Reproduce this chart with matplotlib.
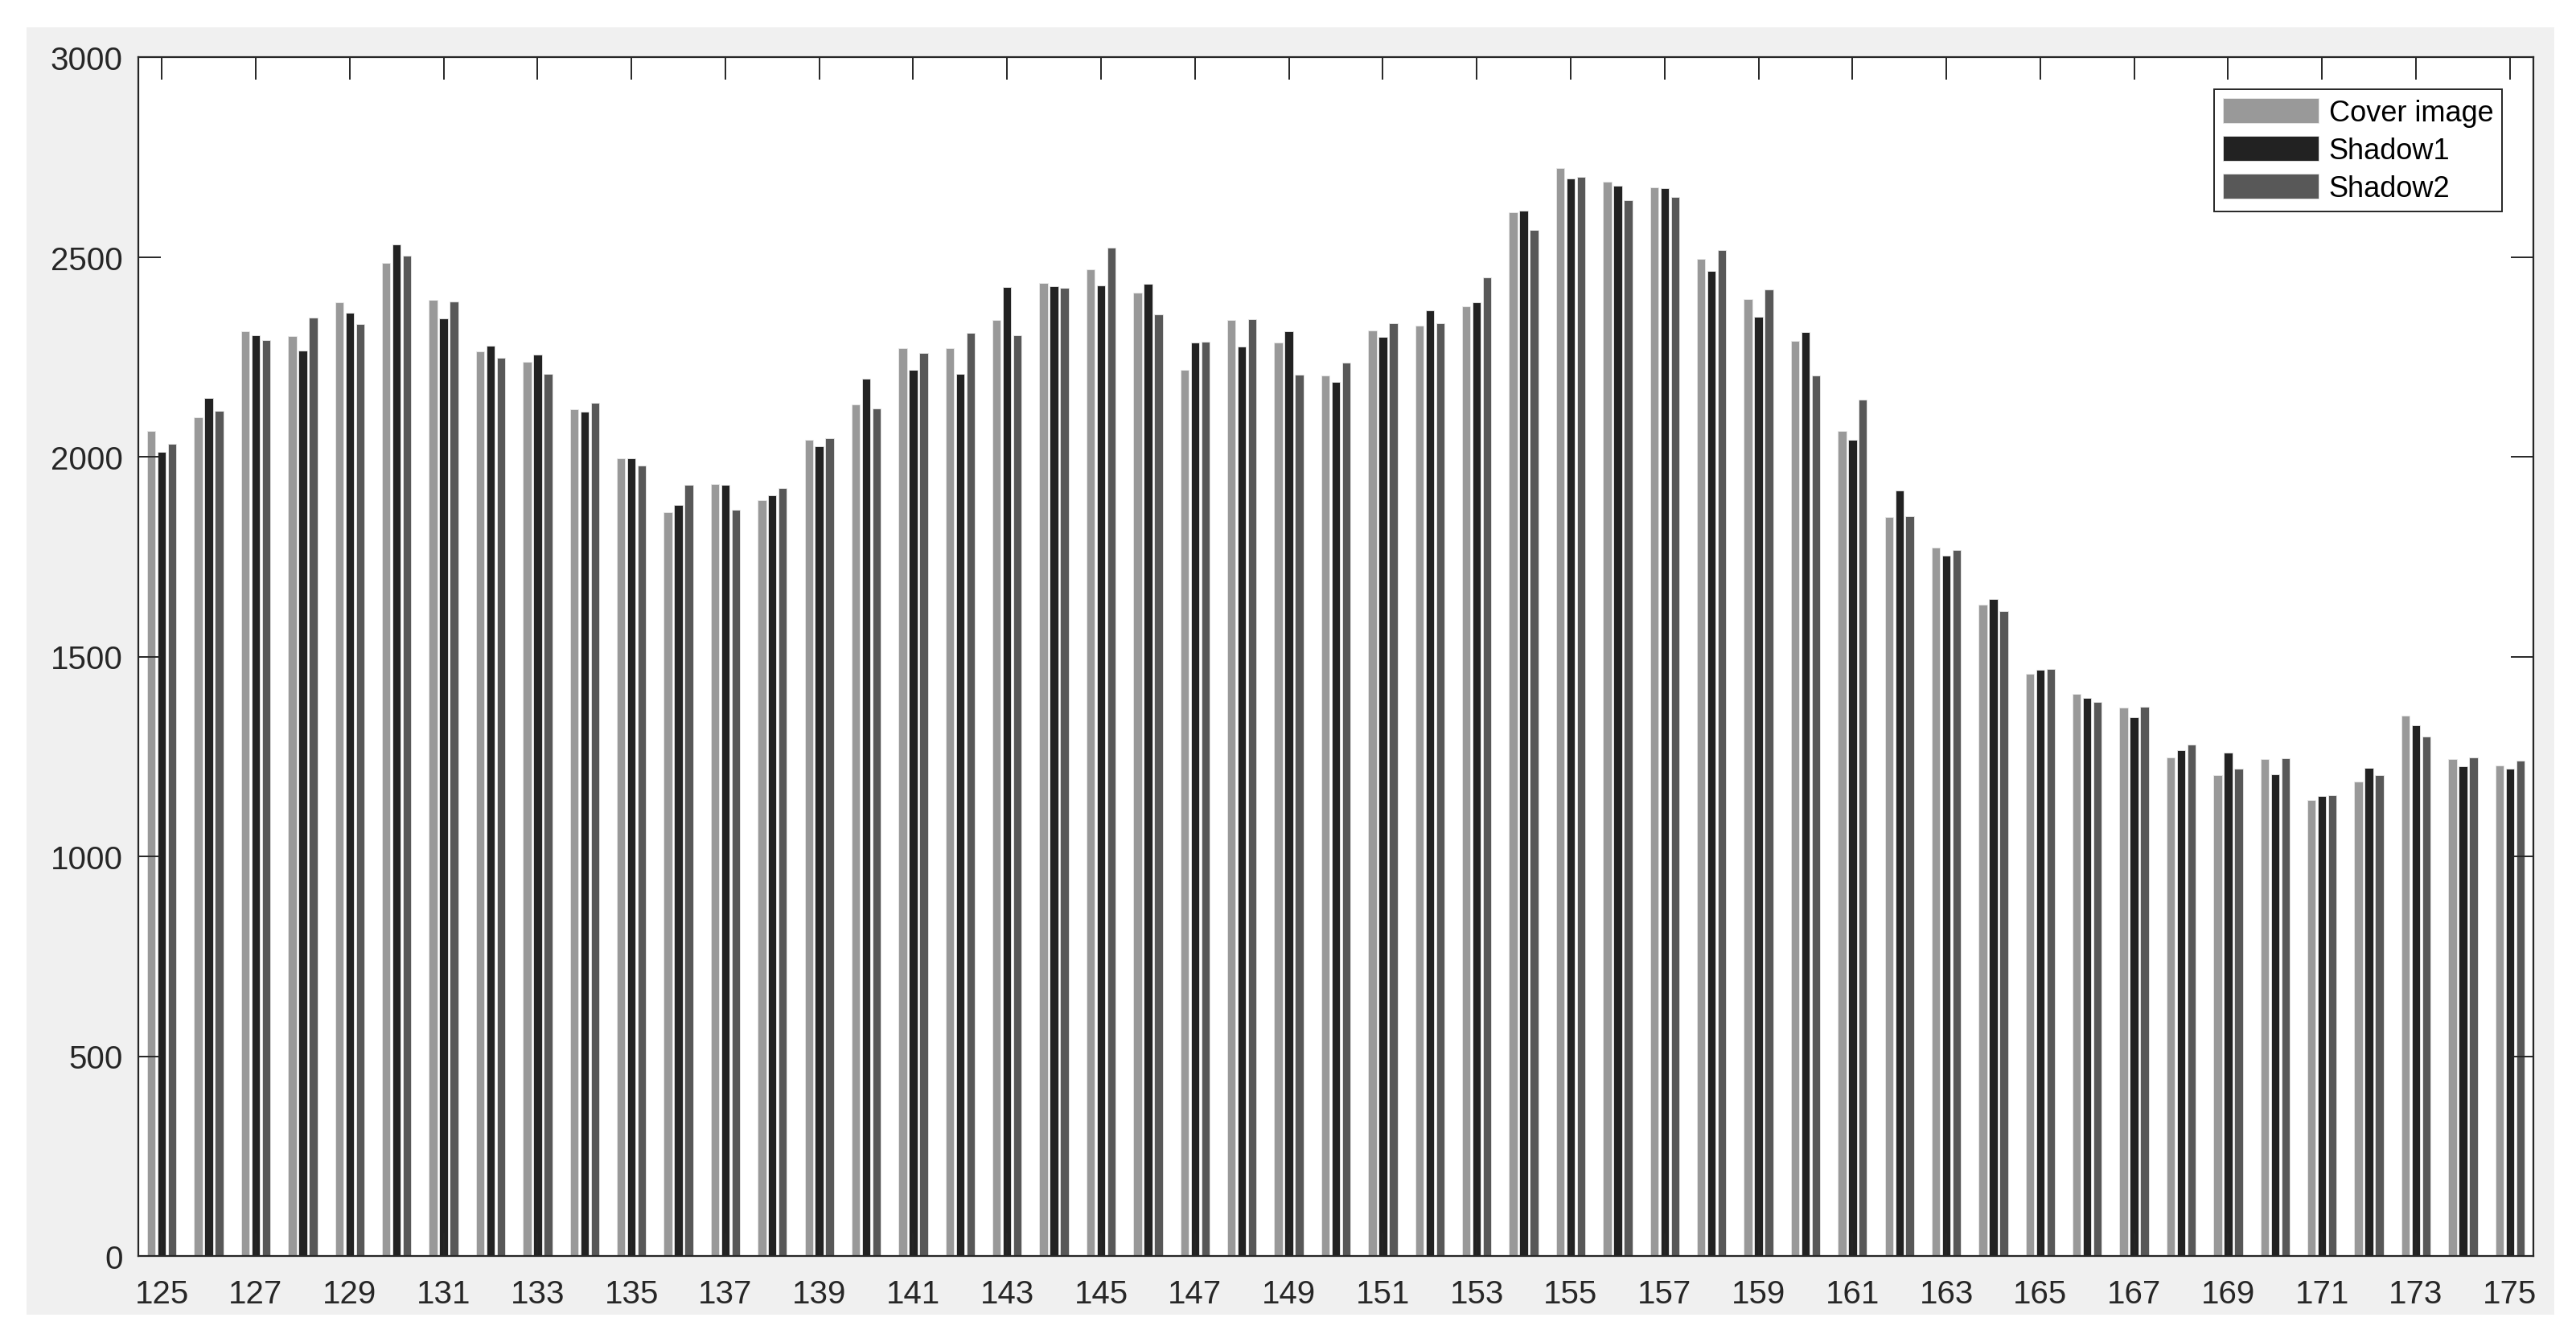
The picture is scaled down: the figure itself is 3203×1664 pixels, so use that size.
import numpy as np
import matplotlib
matplotlib.use("Agg")
import matplotlib.pyplot as plt
from matplotlib.patches import Rectangle

# data
frames = np.arange(125, 176)
cover = [2064, 2098, 2313, 2301, 2387, 2485, 2392, 2264, 2238, 2118,
         1996, 1861, 1931, 1892, 2042, 2130, 2272, 2272, 2343, 2434,
         2468, 2410, 2217, 2342, 2286, 2203, 2315, 2328, 2377, 2612,
         2723, 2689, 2674, 2495, 2394, 2289, 2064, 1849, 1772, 1630,
         1456, 1406, 1373, 1248, 1203, 1243, 1141, 1188, 1352, 1243, 1227]
shadow1 = [2013, 2147, 2303, 2266, 2360, 2531, 2347, 2277, 2256, 2112,
           1996, 1879, 1929, 1903, 2026, 2195, 2218, 2208, 2424, 2427,
           2428, 2432, 2286, 2275, 2314, 2187, 2300, 2367, 2386, 2615,
           2696, 2679, 2672, 2464, 2350, 2311, 2043, 1916, 1753, 1644,
           1467, 1397, 1349, 1265, 1259, 1206, 1151, 1222, 1327, 1225, 1220]
shadow2 = [2033, 2114, 2291, 2348, 2332, 2504, 2388, 2248, 2207, 2134,
           1977, 1930, 1867, 1921, 2047, 2120, 2260, 2310, 2303, 2423,
           2523, 2356, 2287, 2344, 2206, 2235, 2335, 2333, 2449, 2568,
           2700, 2641, 2649, 2517, 2419, 2203, 2143, 1851, 1766, 1613,
           1469, 1386, 1374, 1280, 1219, 1245, 1152, 1204, 1300, 1248, 1239]
labels = ['Cover image', 'Shadow1', 'Shadow2']
colors = ['#999999', '#222222', '#585858']

plt.rcParams['font.family'] = ['Liberation Sans', 'DejaVu Sans']

W, H = 3203, 1665
fig = plt.figure(figsize=(W / 100, H / 100), dpi=100, facecolor='white')

# grey MATLAB-style figure panel
fig.patches.append(Rectangle((33 / W, (H - 1636) / H), (3176 - 33) / W, (1636 - 35) / H,
                             transform=fig.transFigure, facecolor='#f0f0f0',
                             edgecolor='none', zorder=-10))

ax = fig.add_axes([172 / W, (H - 1563) / H, (3150 - 172) / W, (1563 - 72) / H])
ax.set_zorder(1)
ax.set_facecolor('white')

slot = 0.667 / 3
bw = slot * 0.8
for i, (vals, lab, col) in enumerate(zip([cover, shadow1, shadow2], labels, colors)):
    ax.bar(frames + (i - 1) * slot, vals, width=bw, color=col, label=lab,
           edgecolor='#e8e8e8', linewidth=0.6)

ax.set_xlim(124.5, 175.5)
ax.set_ylim(0, 3000)
ax.set_xticks(np.arange(125, 176, 2))
ax.set_yticks(np.arange(0, 3001, 500))

for s in ax.spines.values():
    s.set_linewidth(1.6)
    s.set_color('#262626')
ax.tick_params(direction='in', length=20, width=1.4, colors='#262626',
               labelsize=29, top=True, right=True)
ax.tick_params(axis='x', pad=20)
ax.tick_params(axis='y', pad=14)

leg = ax.legend(loc='upper right', bbox_to_anchor=(0.987, 0.973), borderaxespad=0,
                fontsize=26, fancybox=False, framealpha=1, edgecolor='#262626',
                handlelength=3.3, handleheight=0.95, handletextpad=0.35,
                labelspacing=0.3, borderpad=0.3)
leg.get_frame().set_linewidth(1.4)

fig.savefig('out.png', dpi=100, facecolor=fig.get_facecolor())
